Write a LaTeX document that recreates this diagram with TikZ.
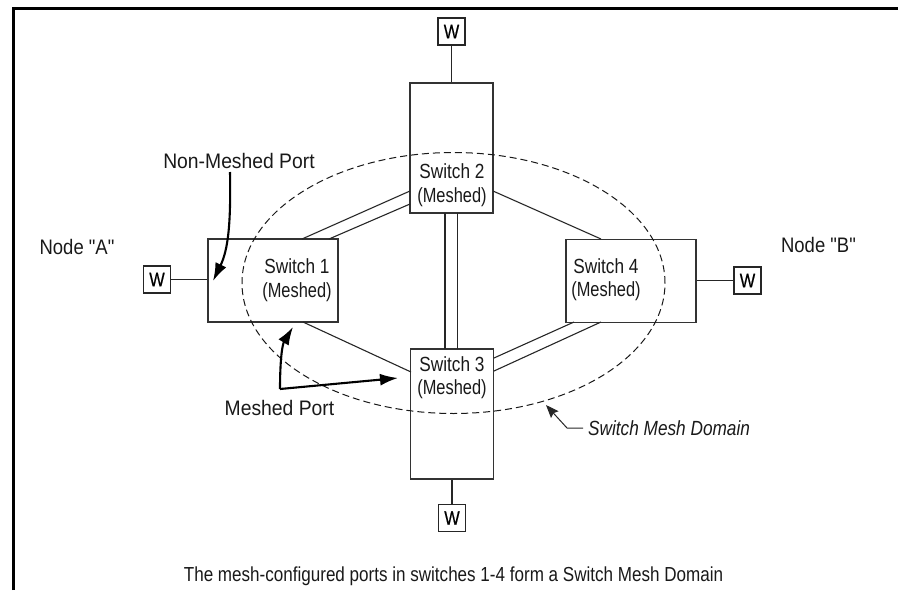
\documentclass[tikz,border=0pt]{standalone}
\usepackage{fontspec}
\setmainfont[FakeStretch=0.84]{Liberation Sans}
\newfontfamily\widef[FakeStretch=0.92]{Liberation Sans}
\newfontfamily\nodef[FakeStretch=0.88]{Liberation Sans}
\newfontfamily\meshf[FakeStretch=0.80]{Liberation Sans}
\newfontfamily\wf[FakeStretch=0.84,FakeBold=0.5]{Liberation Sans}
\usetikzlibrary{arrows.meta,calc,shapes.geometric}
\newcommand{\swtext}[1]{Switch #1\\{\meshf (Meshed)}}
\tikzset{
  x=1pt,y=-1pt,
  wire/.style={draw=black!85,line width=1.1pt},
  box/.style={draw=black!80,line width=1.2pt,fill=white,inner sep=0pt,minimum width=#1},
  wbox/.style={draw=black!85,line width=1.2pt,fill=white,minimum width=27pt,minimum height=27pt,inner sep=0pt,font=\wf\fontsize{19.5}{20}\selectfont},
  lab/.style={inner sep=0pt,text=black!90},
  swlab/.style={lab,align=center,font=\fontsize{20.5}{23.5}\selectfont},
  portlab/.style={lab,font=\widef\fontsize{21}{24}\selectfont},
  nodelab/.style={lab,font=\nodef\fontsize{21}{24}\selectfont},
  pointer/.style={draw=black,line width=2.1pt,-{Latex[length=18pt,width=12pt]}},
}
\begin{document}
\begin{tikzpicture}
\useasboundingbox (0,0) rectangle (898,590);
% frame
\draw[line width=3pt,line cap=butt] (13.5,590) -- (13.5,8.5) -- (898,8.5);
% switches
\node[box=83pt,minimum height=130pt] (s2) at (451.5,148) {};
\node[box=83pt,minimum height=130pt] (s3) at (452,414) {};
\node[box=130pt,minimum height=83pt] (s1) at (273,280.5) {};
\node[box=130pt,minimum height=83pt] (s4) at (631,281) {};
% W boxes
\node[wbox] (wt) at (451.5,31.5) {W};
\node[wbox] (wb) at (452,518) {W};
\node[wbox] (wl) at (157,279.5) {W};
\node[wbox] (wr) at (747.5,280.5) {W};
\draw[wire] (wt) -- (s2);
\draw[wire] (wb) -- (s3);
\draw[wire] (wl) -- (wl -| s1.west);
\draw[wire] (wr) -- (wr -| s4.east);
% ports
\coordinate (s1a) at (302,239);
\coordinate (s1b) at (329,239);
\coordinate (s2a) at (410,191);
\coordinate (s2b) at (410,204);
\coordinate (s2c) at (445,213);
\coordinate (s2d) at (457.5,213);
\coordinate (s3c) at (445,349);
\coordinate (s3d) at (457.5,349);
\coordinate (s2e) at (493,191);
\coordinate (s4e) at (601,239);
\coordinate (s1f) at (303,322);
\coordinate (s3f) at (411,372);
\coordinate (s3g) at (494,358);
\coordinate (s4g) at (574,322);
\coordinate (s3h) at (494,371);
\coordinate (s4h) at (601,322);
\draw[wire] (s1a) -- (s2a);
\draw[wire] (s1b) -- (s2b);
\draw[wire] (s2c) -- (s3c);
\draw[wire] (s2d) -- (s3d);
\draw[wire] (s2e) -- (s4e);
\draw[wire] (s1f) -- (s3f);
\draw[wire] (s3g) -- (s4g);
\draw[wire] (s3h) -- (s4h);
% domain
\node[draw=black!90,line width=1pt,dash pattern=on 7pt off 4pt,ellipse,minimum width=423pt,minimum height=261pt,inner sep=0pt] (dom) at (453.5,283) {};
% labels
\node[swlab] (t2) at (452,185) {\swtext{2}};
\node[swlab] (t3) at (452,377.5) {\swtext{3}};
\node[swlab] (t1) at (297,280) {\swtext{1}};
\node[swlab] (t4) at (606,279.5) {\swtext{4}};
\node[nodelab] (nna) at (77,247) {Node "A"};
\node[nodelab] (nnb) at (818.5,245) {Node "B"};
\node[portlab] (nonm) at (239,161) {Non-Meshed Port};
\node[portlab] (mp) at (279.5,408) {Meshed Port};
\node[lab,anchor=west,font=\fontsize{20.5}{24}\selectfont\itshape] (dl) at (588,428) {Switch Mesh Domain};
\node[lab,font=\fontsize{20.3}{24}\selectfont] (cap) at (453.5,576) {The mesh-configured ports in switches 1-4 form a Switch Mesh Domain};
% arrows
\coordinate (nm0) at (230,172);
\coordinate (nmt) at (213,281);
\draw[pointer] (nm0) .. controls (231,225) and (228,250) .. (nmt);
\coordinate (mc) at (280,389);
\coordinate (mt1) at (293,327);
\coordinate (mt2) at (398,378);
\draw[pointer] (mc) .. controls (280,362) and (282,345) .. (mt1);
\draw[pointer] (mc) -- (mt2);
\coordinate (dc) at (567,428);
\coordinate (de) at (583,428);
\coordinate (dt) at (546,405);
\draw[draw=black!85,line width=1pt,-{Stealth[length=13pt,width=10pt,inset=2pt]}] (de) -- (dc) -- (dt);
\end{tikzpicture}
\end{document}
